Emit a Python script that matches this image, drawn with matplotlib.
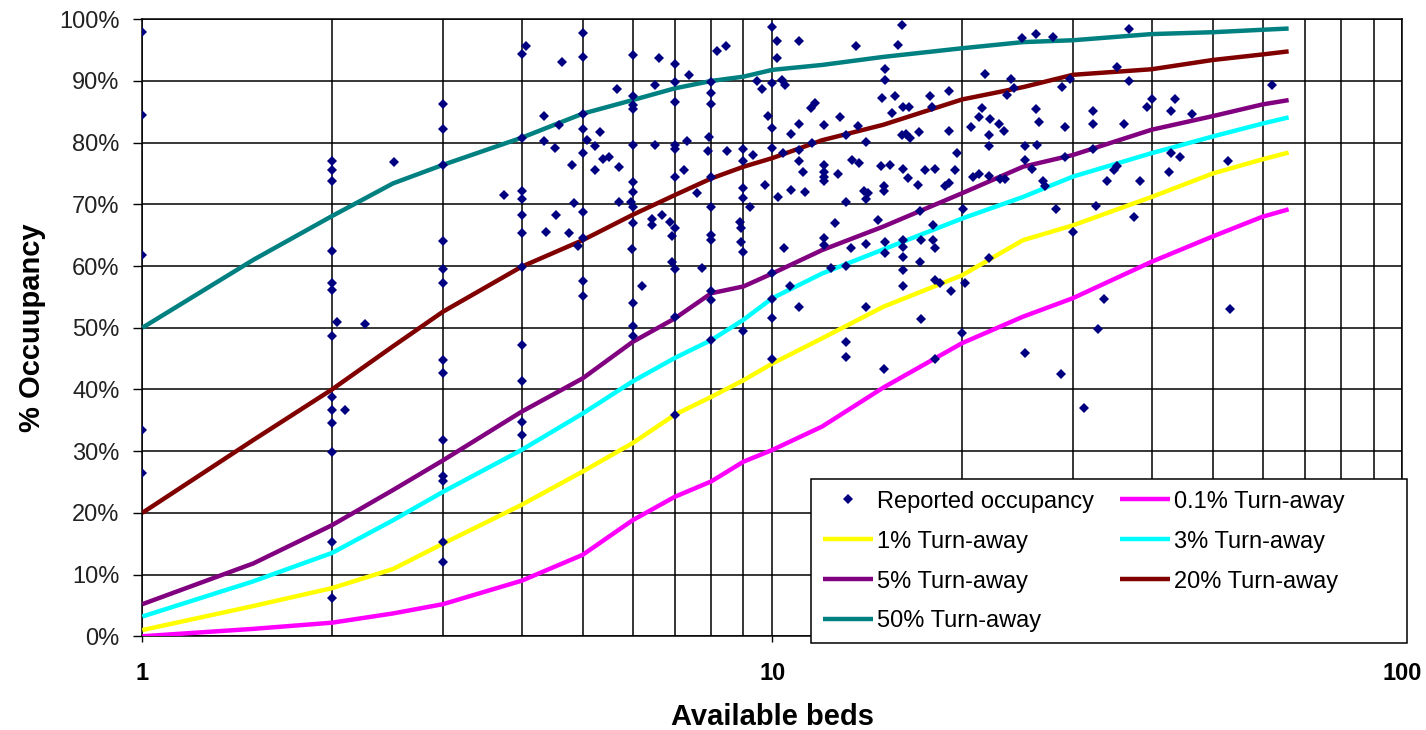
import matplotlib
matplotlib.use("Agg")
import matplotlib.pyplot as plt
from matplotlib.ticker import FixedLocator, FuncFormatter, NullFormatter
from matplotlib.patches import Rectangle

plt.rcParams['font.family'] = ['Liberation Sans', 'DejaVu Sans']

# ---- Reported occupancy (scatter) ----
rep_beds = [
    1, 1, 1, 1, 1,
    2, 2, 2, 2, 2, 2, 2, 2, 2, 2, 2, 2, 2,
    2.04, 2.26, 2.10, 2.51,
    3, 3, 3, 3, 3, 3, 3, 3, 3, 3, 3, 3, 3,
    4.06, 4.0, 4.63, 5.0, 5, 6, 6.60, 7, 7.38, 8.17, 8.43,
    5.67, 6, 6.52, 7, 7, 8, 8, 8, 9.46, 9.64, 9.84,
    4.34, 4.59, 5, 6, 6,
    4, 4.34, 4.52, 5, 5.33, 5.08, 5.23, 5, 4.81, 5.24, 5.39, 5.51, 5.70,
    6, 6.52, 7, 7, 7.31, 7, 7.24, 7.60, 7.93, 7.9, 8, 8, 8.46, 9, 9.32, 9, 9, 8.99, 9.22, 9.75,
    3.75, 4, 4, 4, 4, 4, 4.54, 4.37, 4.75, 4.84, 5, 5, 4.92, 5, 5,
    6, 6, 5.70, 5.97, 6, 6, 6.45, 6.45, 6.67, 6.88, 7, 6.92, 5.98, 6.92, 7, 7.74,
    8, 8, 8, 8, 8.87, 8.93, 8.93, 8.99,
    6, 6.20, 6, 6, 7, 9,
    4, 4, 4, 4, 8, 10, 7,
    10.0, 10.17, 10.17, 11.04, 13.6, 16.05, 15.84, 15.08, 15.08, 14.95, 15.66, 16.1, 16.49, 15.5, 17.77, 17.9, 19.1,
    10.36, 10.49, 10, 11.5, 11.7, 10, 11.04, 10.72, 12.07, 12.79, 13.07, 13.69, 14.07,
    10, 10.39, 11.04, 11.04, 11.55, 11.2, 10.2, 10.72, 11.27, 12.07, 12.07, 12.07, 12.07, 12.71, 13.07,
    13.36, 13.73, 13.98, 14.2, 14.07, 14.86, 15.37, 15.05, 15.05, 16.1, 16.39, 17.04, 17.46, 18.14,
    18.82, 19.06, 19.52, 19.65,
    16.31, 16.56, 17.1, 16.05, 19.04, 20.67, 21.32, 21.52, 22.14, 22.88, 23.3, 22.1, 22.1, 21.76,
    23.93, 24.23, 23.6, 26.17, 26.5, 29.17, 28.8, 29.7, 24.9, 26.17, 27.9,
    25.2, 26.3, 25.2, 25.8, 29.17, 20.8, 21.3, 22.1, 23.0, 23.4, 26.9, 27.1,
    20.1, 28.2, 30, 17.14, 17.96, 17.2, 18.0, 18.1, 14.72, 15.08, 15.08, 16.13, 16.13, 16.13, 16.13,
    16.13, 17.14, 14.07, 13.32, 13.07, 12.57, 12.07, 12.07, 12.37, 10.42, 10, 10, 10, 10.66, 11.04,
    14.07, 18.14, 18.45, 19.2, 20.2, 22.1, 17.2, 20,
    13.07, 13.07, 15.06, 18.14, 25.2, 28.7, 31.2,
    36.8, 35.2, 36.8, 32.3, 32.3, 36.1, 39.4, 40, 42.9, 43.6, 46.4, 62.2, 32.3, 42.9, 44.3, 35.2,
    34.8, 42.6, 34.0, 38.4, 52.8, 32.6, 37.5, 33.6, 32.9, 53.3,
]
rep_occ = [
    97.9, 84.5, 61.8, 33.4, 26.4,
    77.1, 75.5, 73.8, 62.5, 57.2, 56.2, 48.6, 38.8, 36.7, 34.5, 29.8, 15.2, 6.2,
    51.0, 50.6, 36.7, 76.8,
    86.3, 82.2, 76.4, 64.1, 59.5, 57.2, 44.7, 42.6, 31.8, 26.0, 25.1, 15.2, 12.1,
    95.7, 94.4, 93.0, 97.7, 93.9, 94.2, 93.7, 92.8, 91.0, 94.9, 95.7,
    88.7, 87.5, 89.4, 89.8, 86.6, 89.8, 88.0, 86.3, 90.0, 88.7, 84.4,
    84.4, 82.9, 84.7, 86.1, 85.5,
    80.8, 80.3, 79.1, 82.2, 81.7, 80.4, 79.4, 78.4, 76.4, 75.6, 77.3, 77.6, 76.0,
    79.7, 79.6, 79.6, 78.9, 80.3, 74.5, 75.6, 71.8, 81.0, 78.7, 74.5, 69.6, 78.7, 79.0, 78.0, 77.1, 72.6, 71.1, 69.6, 73.1,
    71.5, 72.2, 70.8, 68.3, 65.3, 59.9, 68.3, 65.5, 65.3, 70.2, 68.8, 64.5, 63.3, 57.6, 55.2,
    73.6, 72.0, 70.4, 70.4, 69.6, 66.9, 67.6, 66.7, 68.2, 67.1, 66.1, 64.8, 62.7, 60.6, 59.5, 59.7,
    65.0, 64.2, 56.0, 54.5, 67.1, 66.1, 63.9, 62.3,
    54.0, 56.8, 50.3, 48.6, 51.8, 49.4,
    47.2, 41.3, 34.8, 32.6, 48.0, 44.9, 35.9,
    98.7, 96.5, 93.8, 96.5, 95.7, 99.1, 95.8, 91.9, 90.2, 87.2, 87.5, 85.8, 85.8, 84.8, 87.5, 85.8, 88.3,
    90.2, 89.4, 89.6, 85.6, 86.4, 82.4, 83.1, 81.4, 82.9, 84.2, 81.2, 82.7, 80.1,
    79.2, 78.4, 78.8, 77.0, 79.9, 75.2, 71.2, 72.4, 72.0, 76.4, 75.3, 74.5, 73.8, 75.0, 70.4,
    77.2, 76.7, 72.1, 71.9, 70.8, 76.2, 76.4, 72.9, 72.1, 75.8, 74.2, 73.1, 75.5, 75.7,
    72.9, 73.4, 75.5, 78.3,
    81.4, 80.8, 81.8, 81.2, 81.9, 82.6, 84.1, 85.7, 83.8, 83.1, 81.9, 81.2, 79.4, 91.2,
    90.3, 88.8, 87.7, 85.4, 83.4, 82.5, 89.1, 90.3, 96.9, 97.6, 97.2,
    79.5, 79.6, 77.2, 75.7, 77.7, 74.5, 75.0, 74.6, 74.1, 74.1, 73.8, 72.9,
    69.2, 69.2, 65.6, 68.9, 66.7, 64.3, 64.3, 63.0, 67.5, 63.9, 62.1, 64.2, 63.1, 61.5, 59.3,
    56.8, 60.7, 63.5, 63.0, 60.0, 66.9, 64.6, 63.4, 59.7, 63.0, 58.8, 54.6, 51.6, 56.8, 53.3,
    53.3, 57.7, 57.3, 56.0, 57.2, 61.3, 51.4, 49.1,
    47.7, 45.2, 43.3, 44.9, 45.9, 42.5, 37.0,
    98.4, 92.3, 90.0, 85.2, 83.1, 83.1, 85.8, 87.0, 85.2, 87.0, 84.7, 89.4, 78.9, 78.4, 77.6, 76.3,
    75.6, 75.2, 73.8, 73.8, 77.0, 69.7, 68.0, 54.6, 49.8, 53.0,
]

# ---- Turn-away curves ----
curve_beds = [1, 1.5, 2, 2.5, 3, 4, 5, 6, 7, 8, 9, 10, 12, 15, 20, 25, 30, 40, 50, 60, 66]
turn_01 = [0.0, 1.2, 2.2, 3.7, 5.2, 9.0, 13.2, 18.8, 22.6, 25.1, 28.3, 30.2, 34.0, 40.3, 47.5, 51.8, 54.8, 60.7, 64.8, 68.0, 69.2]
turn_1 = [1.0, 4.9, 7.8, 10.9, 15.0, 21.3, 26.7, 31.3, 35.9, 38.8, 41.5, 44.2, 48.3, 53.4, 58.5, 64.2, 66.6, 71.2, 75.0, 77.3, 78.4]
turn_3 = [3.2, 8.9, 13.5, 18.8, 23.4, 30.2, 36.1, 41.3, 45.1, 48.0, 51.3, 54.8, 58.8, 62.7, 67.7, 71.2, 74.5, 78.3, 81.0, 83.1, 84.1]
turn_5 = [5.2, 11.8, 18.0, 23.7, 28.5, 36.4, 41.8, 47.7, 51.5, 55.6, 56.7, 58.8, 62.6, 66.4, 71.8, 76.1, 78.0, 82.1, 84.3, 86.2, 86.9]
turn_20 = [20.0, 31.8, 40.0, 47.0, 52.6, 59.9, 64.2, 68.3, 71.5, 74.2, 76.1, 77.5, 80.4, 82.9, 87.0, 89.0, 91.0, 91.9, 93.4, 94.3, 94.8]
turn_50 = [50.0, 61.0, 68.1, 73.4, 76.4, 80.8, 84.7, 86.9, 88.8, 90.0, 90.7, 91.8, 92.6, 93.9, 95.3, 96.3, 96.6, 97.6, 97.9, 98.3, 98.5]

series_labels = ["0.1% Turn-away", "1% Turn-away", "3% Turn-away", "5% Turn-away",
                 "20% Turn-away", "50% Turn-away"]
series_colors = ["#FF00FF", "#FFFF00", "#00FFFF", "#800080", "#800000", "#008080"]
series_values = [turn_01, turn_1, turn_3, turn_5, turn_20, turn_50]

y_ticks = [0, 10, 20, 30, 40, 50, 60, 70, 80, 90, 100]
x_ticks = [1, 10, 100]

fig = plt.figure(figsize=(14.26, 7.30), dpi=100)
ax = fig.add_axes([0.0998, 0.1284, 0.8836, 0.8452])
ax.set_xscale('log')
ax.set_xlim(1, 100)
ax.set_ylim(0, 100)

lines = {}
for lab, col, vals in zip(series_labels, series_colors, series_values):
    ln, = ax.plot(curve_beds, vals, color=col, lw=3.2, label=lab, zorder=3,
                  solid_capstyle='butt', solid_joinstyle='round')
    lines[lab] = ln

pts, = ax.plot(rep_beds, rep_occ, ls='none', marker='D', markersize=5.1,
               color='#000080', markeredgewidth=0, label="Reported occupancy", zorder=4)

ax.xaxis.set_major_locator(FixedLocator(x_ticks))
ax.xaxis.set_major_formatter(FuncFormatter(lambda v, p: f"{v:g}"))
ax.xaxis.set_minor_locator(FixedLocator([m * d for d in (1, 10) for m in range(2, 10)]))
ax.xaxis.set_minor_formatter(NullFormatter())
ax.yaxis.set_major_locator(FixedLocator(y_ticks))
ax.yaxis.set_major_formatter(FuncFormatter(lambda v, p: f"{v:g}%"))

ax.grid(True, which='both', axis='x', color='black', lw=1.1, zorder=1)
ax.grid(True, which='major', axis='y', color='black', lw=1.1, zorder=1)
ax.set_axisbelow(True)
for s in ax.spines.values():
    s.set_color('black')
    s.set_linewidth(1.1)

ax.tick_params(axis='y', which='major', length=6.5, width=1, pad=10, labelsize=17,
               colors='black', labelcolor='#222222')
ax.tick_params(axis='x', which='major', length=4.5, width=1, pad=14, labelsize=17)
ax.tick_params(axis='x', which='minor', length=0)
for t in ax.get_xticklabels():
    t.set_fontweight('bold')

ax.set_xlabel("Available beds", fontsize=21, fontweight='bold', labelpad=13)
ax.set_ylabel("% Occuupancy", fontsize=21, fontweight='bold', labelpad=9)

# legend box
box = Rectangle((0.5307, -0.0104), 0.473, 0.2649, transform=ax.transAxes,
                facecolor='white', edgecolor='black', lw=1.1, clip_on=False, zorder=9)
ax.add_patch(box)

handles = [pts, lines["1% Turn-away"], lines["5% Turn-away"], lines["50% Turn-away"],
           lines["0.1% Turn-away"], lines["3% Turn-away"], lines["20% Turn-away"]]
leg = ax.legend(handles=handles, loc='upper left', ncol=2,
                bbox_to_anchor=(0.5402, 0.236),
                fontsize=17, frameon=False, handlelength=2.12, handletextpad=0.17,
                labelspacing=0.76, borderpad=0, borderaxespad=0, columnspacing=1.1,
                numpoints=1)
leg.set_zorder(10)

fig.savefig("out.png", dpi=100)
